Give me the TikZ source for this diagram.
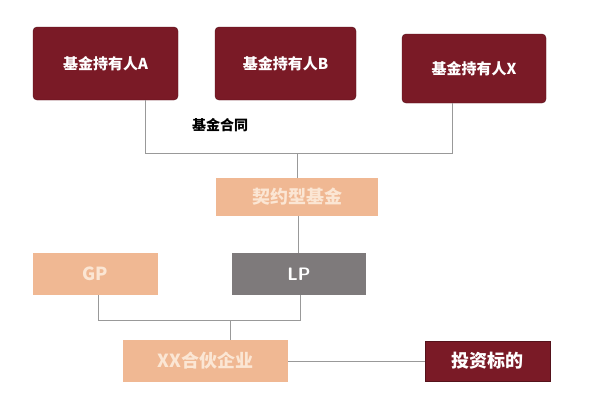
\documentclass[tikz,border=0pt]{standalone}
\usepackage{fontspec}
\newfontfamily\cjk{Noto Sans CJK SC}
\definecolor{dred}{HTML}{7A1A26}
\definecolor{peach}{HTML}{F0B893}
\definecolor{lgray}{HTML}{7E7A7B}
\definecolor{pfont}{HTML}{FBE6D4}
\tikzset{
 holder/.style={draw=dred!70!black,fill=dred,rounded corners=4pt,text=white,font=\cjk\bfseries\fontsize{15}{15}\selectfont},
 pbox/.style={fill=peach,text=pfont,font=\cjk\bfseries\fontsize{18}{18}\selectfont},
 conn/.style={draw=gray!80,line width=0.8pt}
}
\begin{document}
\begin{tikzpicture}[x=1pt,y=-1pt]
\useasboundingbox (0,0) rectangle (600,400);
\node[holder,minimum width=145,minimum height=73] (a) at (105.5,63.5) {基金持有人A};
\node[holder,minimum width=141,minimum height=73] (b) at (285.5,63.5) {基金持有人B};
\node[holder,minimum width=144,minimum height=69] (x) at (474,68.5) {基金持有人X};
\node[font=\cjk\bfseries\fontsize{14}{14}\selectfont] (ht) at (220,125) {基金合同};
\node[pbox,minimum width=162,minimum height=38] (f) at (297,197) {契约型基金};
\node[pbox,minimum width=125,minimum height=42] (gp) at (95.5,274) {GP};
\node[fill=lgray,text=white,font=\sffamily\bfseries\fontsize{18}{18}\selectfont,minimum width=134,minimum height=42] (lp) at (299,274) {LP};
\node[pbox,minimum width=165,minimum height=42] (xx) at (205.5,361) {XX合伙企业};
\node[holder,rounded corners=0pt,font=\cjk\bfseries\fontsize{18}{18}\selectfont,minimum width=125,minimum height=40] (t) at (487.5,361) {投资标的};
\coordinate (bus) at (297,153);
\draw[conn] (a.south -| 145,0) -- (145,153) -- (452,153) -- (x.south -| 452,0);
\draw[conn] (bus) -- (f.north -| bus);
\draw[conn] (f.south -| 298,0) -- (lp.north -| 298,0);
\draw[conn] (gp.south -| 98,0) -- (98,320) -- (300,320) -- (lp.south -| 300,0);
\draw[conn] (230,320) -- (xx.north -| 230,0);
\draw[conn] (xx.east) -- (t.west);
\end{tikzpicture}
\end{document}
